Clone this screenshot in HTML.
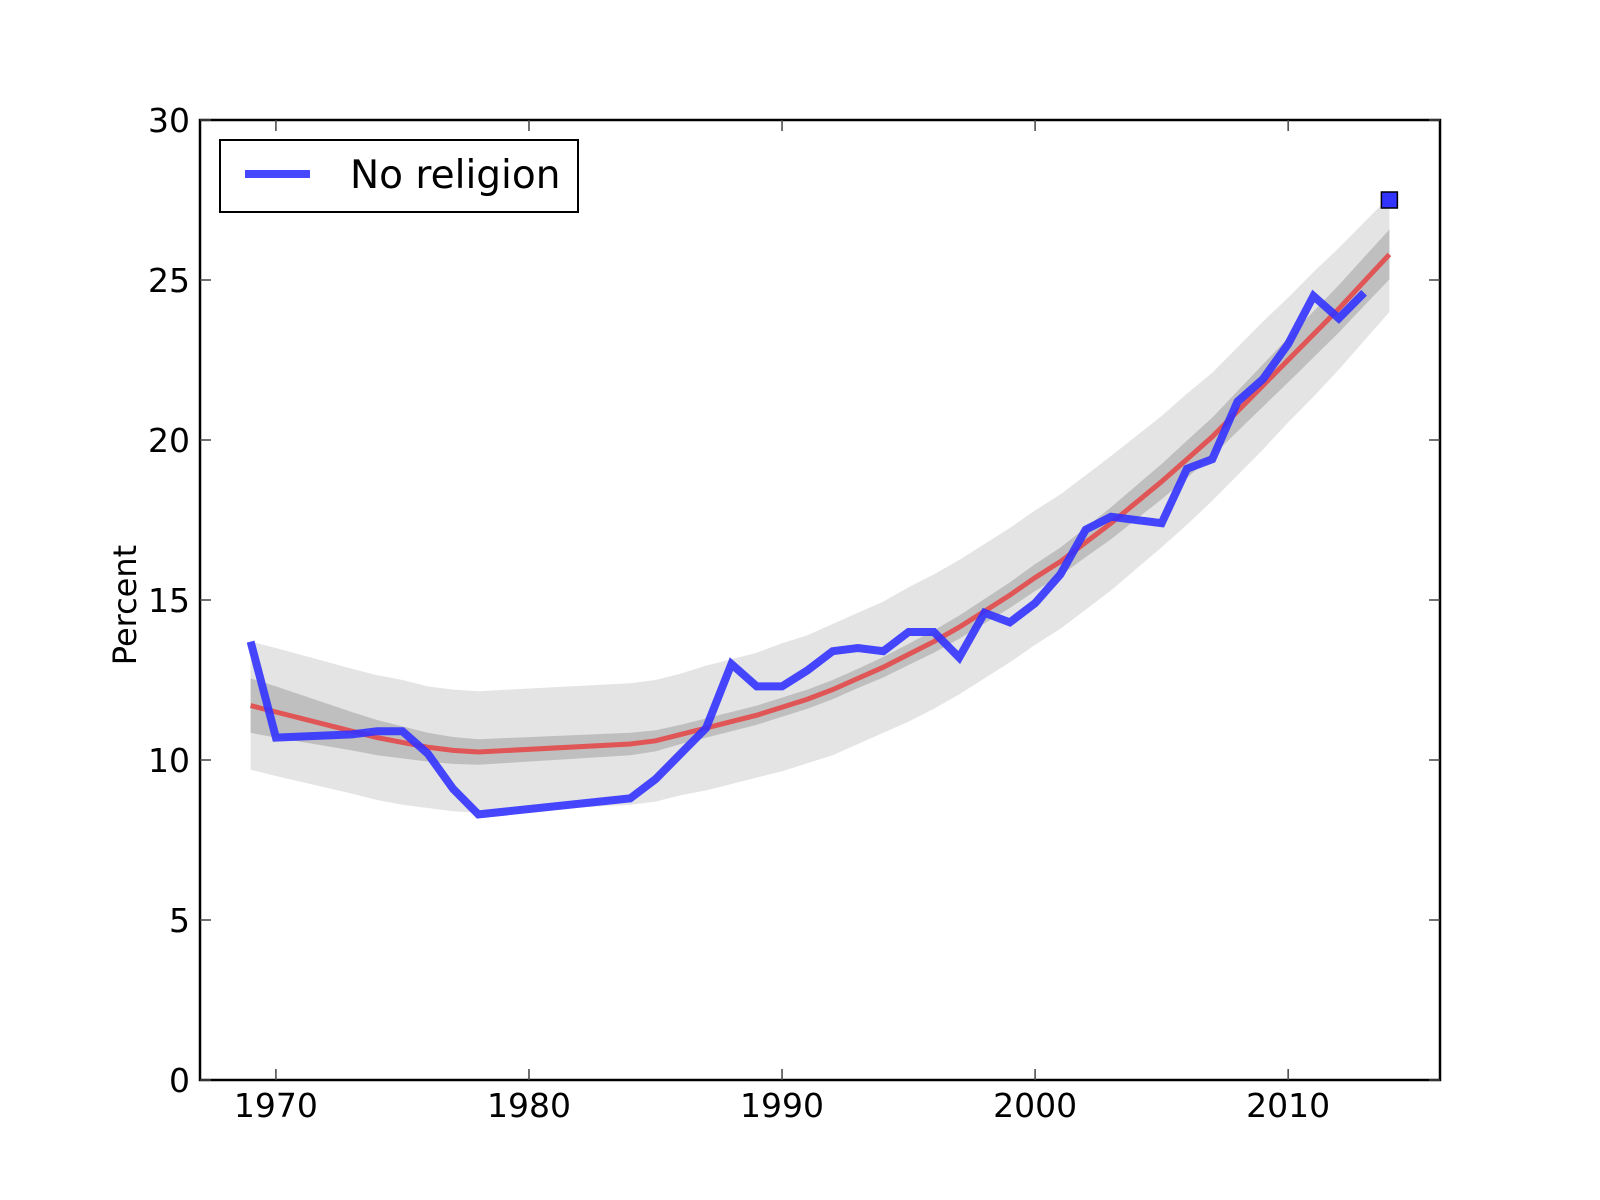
<!DOCTYPE html>
<html><head><meta charset="utf-8"><style>
html,body{margin:0;padding:0;background:#fff}
svg{display:block;font-family:"DejaVu Sans","Liberation Sans",sans-serif}
</style></head><body>
<svg id="chart" width="1600" height="1200" viewBox="0 0 1600 1200">
<g id="bands"></g>
<g id="lines"></g>
<rect x="200" y="120" width="1240" height="960" fill="none" stroke="#000" stroke-width="2.5"/>
<g id="ticks"></g>
<text x="0" y="0" transform="translate(136,605) rotate(-90)" text-anchor="middle" font-size="32">Percent</text>
<g>
<rect x="220" y="140" width="358" height="72" fill="#fff" stroke="#000" stroke-width="2"/>
<line x1="245" y1="174" x2="310" y2="174" stroke="#3333ff" stroke-opacity="0.9" stroke-width="8"/>
<text x="350" y="188" font-size="39">No religion</text>
</g>
</svg>
<script>
const years=[1969,1970,1973,1974,1975,1976,1977,1978,1984,1985,1986,1987,1988,1989,1990,1991,1992,1993,1994,1995,1996,1997,1998,1999,2000,2001,2002,2003,2005,2006,2007,2008,2009,2010,2011,2012,2013];
const values=[13.7,10.7,10.8,10.9,10.9,10.2,9.1,8.3,8.8,9.4,10.2,11.0,13.0,12.3,12.3,12.8,13.4,13.5,13.4,14.0,14.0,13.2,14.6,14.3,14.9,15.8,17.2,17.6,17.4,19.1,19.4,21.2,21.9,23.0,24.5,23.8,24.6];
const fitYears=[1969,1970,1973,1974,1975,1976,1977,1978,1984,1985,1986,1987,1988,1989,1990,1991,1992,1993,1994,1995,1996,1997,1998,1999,2000,2001,2002,2003,2005,2006,2007,2008,2009,2010,2011,2012,2013,2014];
const fitValues=[11.7,11.5,10.9,10.7,10.55,10.4,10.3,10.25,10.5,10.6,10.8,11.0,11.2,11.4,11.65,11.9,12.2,12.55,12.9,13.3,13.7,14.15,14.65,15.15,15.7,16.2,16.8,17.4,18.7,19.4,20.1,20.9,21.7,22.5,23.3,24.1,24.95,25.8];
const innerHalf=[0.85,0.8,0.6,0.55,0.5,0.45,0.42,0.4,0.35,0.33,0.3,0.3,0.3,0.3,0.3,0.3,0.3,0.3,0.32,0.33,0.35,0.36,0.38,0.4,0.42,0.44,0.46,0.5,0.55,0.58,0.6,0.63,0.66,0.7,0.72,0.74,0.76,0.78];
const outerHalf=[2.0,2.0,1.95,1.95,1.95,1.9,1.9,1.9,1.9,1.9,1.9,1.95,1.95,1.95,2.0,2.0,2.05,2.05,2.05,2.1,2.1,2.1,2.1,2.1,2.1,2.1,2.1,2.1,2.05,2.05,2.0,2.0,2.0,1.95,1.95,1.9,1.85,1.8];
const forecastYear=[2014];
const forecastValue=[27.5];
const xTicks=[1970,1980,1990,2000,2010];
const yTicks=[0,5,10,15,20,25,30];

const NS='http://www.w3.org/2000/svg';
const X=y=>200+(y-1967)*(1240/49);
const Y=v=>1080-v*32;
function mk(tag,attrs,parent){const e=document.createElementNS(NS,tag);for(const k in attrs)e.setAttribute(k,attrs[k]);parent.appendChild(e);return e;}
function band(half){
  const up=fitYears.map((yr,i)=>X(yr)+','+Y(fitValues[i]+half[i]));
  const dn=fitYears.map((yr,i)=>X(yr)+','+Y(fitValues[i]-half[i])).reverse();
  return up.concat(dn).join(' ');
}
const bands=document.getElementById('bands');
const ob=mk('polygon',{points:band(outerHalf),fill:'#e4e4e4'},bands);


const ib=mk('polygon',{points:band(innerHalf),fill:'#bfbfbf'},bands);


const lines=document.getElementById('lines');
const fl=mk('polyline',{points:fitYears.map((yr,i)=>X(yr)+','+Y(fitValues[i])).join(' '),fill:'none',stroke:'#e05555','stroke-width':5},lines);


const dl=mk('polyline',{points:years.map((yr,i)=>X(yr)+','+Y(values[i])).join(' '),fill:'none',stroke:'#3333ff','stroke-opacity':0.9,'stroke-width':8,'stroke-linejoin':'miter'},lines);


forecastYear.forEach((yr,i)=>{
  const s=mk('rect',{x:X(yr)-8,y:Y(forecastValue[i])-8,width:16,height:16,fill:'#3333ff',stroke:'#000','stroke-width':1.5},lines);
  
  
});
const ticks=document.getElementById('ticks');
xTicks.forEach(t=>{
  const x=X(t);
  mk('line',{x1:x,y1:1080,x2:x,y2:1069,stroke:'#444','stroke-width':1.5},ticks);
  mk('line',{x1:x,y1:120,x2:x,y2:131,stroke:'#444','stroke-width':1.5},ticks);
  const l=mk('text',{x:x,y:1117,'text-anchor':'middle','font-size':33},ticks);
  l.textContent=t;
  
  
});
yTicks.forEach(t=>{
  const y=Y(t);
  mk('line',{x1:200,y1:y,x2:211,y2:y,stroke:'#444','stroke-width':1.5},ticks);
  mk('line',{x1:1440,y1:y,x2:1429,y2:y,stroke:'#444','stroke-width':1.5},ticks);
  const l=mk('text',{x:190,y:y+12,'text-anchor':'end','font-size':33},ticks);
  l.textContent=t;
  
  
});
</script>
</body></html>
